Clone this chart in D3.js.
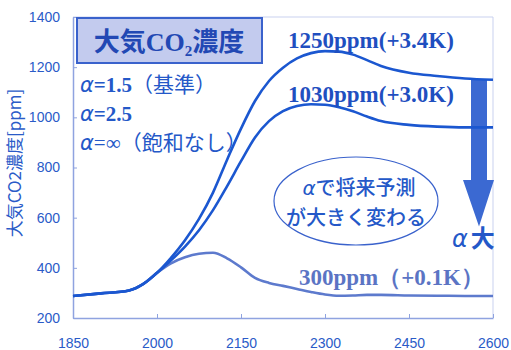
<!DOCTYPE html>
<html>
<head>
<meta charset="utf-8">
<script src="https://cdn.jsdelivr.net/npm/d3@7"></script>
<style>
  body { margin: 0; background: #fff; }
  svg { display: block; }
  .tick text { font-family: "Liberation Sans", Arial, sans-serif; font-size: 14px; fill: #2a5bc8; }
  .tick line { stroke: #8fa3e0; }
  .domain { stroke: #8fa3e0; stroke-width: 1.5; }
</style>
</head>
<body>
<svg width="511" height="350"></svg>
<script>
// years on the x axis
const years = [1850, 1900, 1950, 1975, 2000, 2025, 2050, 2075, 2100, 2125, 2150, 2175, 2200,
  2225, 2250, 2275, 2300, 2325, 2350, 2375, 2400, 2450, 2500, 2550, 2600];

// CO2 concentration (ppm) per alpha
const alpha15 = [288, 298, 310, 335, 380, 440, 510, 595, 700, 830, 955, 1065, 1145,
  1198, 1235, 1256, 1264, 1262, 1250, 1228, 1205, 1178, 1165, 1155, 1150];
const alpha25 = [288, 298, 310, 335, 380, 430, 485, 550, 630, 725, 825, 920, 985,
  1025, 1045, 1052, 1050, 1040, 1024, 1003, 985, 970, 963, 960, 960];
const alphaInf = [288, 298, 310, 335, 380, 418, 442, 456, 460, 438, 402, 360, 340,
  328, 316, 304, 294, 289, 290, 292, 292, 290, 289, 288, 288];

const xTicks = [1850, 2000, 2150, 2300, 2450, 2600];
const yTicks = [200, 400, 600, 800, 1000, 1200, 1400];

const svg = d3.select('svg');

const x = d3.scaleLinear().domain([1850, 2600]).range([73, 493]);
const y = d3.scaleLinear().domain([200, 1400]).range([318, 17]);

// frame (top + right)
svg.append('path')
  .attr('d', `M${x(1850)},${y(1400)}H${x(2600)}V${y(200)}`)
  .attr('fill', 'none')
  .attr('stroke', '#c9d1ef')
  .attr('stroke-width', 1);

// axes
svg.append('g')
  .attr('transform', `translate(0,${y(200)})`)
  .call(d3.axisBottom(x).tickValues(xTicks).tickSizeInner(-4).tickSizeOuter(0).tickPadding(20).tickFormat(d3.format('d')));

svg.append('g')
  .attr('transform', `translate(${x(1850)},0)`)
  .call(d3.axisLeft(y).tickValues(yTicks).tickSizeInner(-4).tickSizeOuter(0).tickPadding(13).tickFormat(d3.format('d')));

// y title
svg.append('text')
  .attr('transform', `translate(21,${163}) rotate(-90)`)
  .attr('text-anchor', 'middle')
  .style('font-family', '"Noto Sans CJK JP", sans-serif')
  .style('font-size', '17px')
  .attr('fill', '#2a5bc8')
  .text('大気CO2濃度[ppm]');

// arrow (alpha larger)
const ax = x(2575);
const ay0 = y(1150), ay1 = y(750), ay2 = y(565);
svg.append('path')
  .attr('d', `M${ax - 8},${ay0}H${ax + 8}V${ay1}H${ax + 15}L${ax},${ay2}L${ax - 16},${ay1}H${ax - 8}Z`)
  .attr('fill', '#3b69d2');

// curves
const line = d3.line()
  .x((d, i) => x(years[i]))
  .y(d => y(d))
  .curve(d3.curveMonotoneX);

svg.append('path').datum(alphaInf)
  .attr('d', line).attr('fill', 'none')
  .attr('stroke', '#5d7acd').attr('stroke-width', 2.6);
svg.append('path').datum(alpha25)
  .attr('d', line).attr('fill', 'none')
  .attr('stroke', '#1b57d0').attr('stroke-width', 2.6);
svg.append('path').datum(alpha15)
  .attr('d', line).attr('fill', 'none')
  .attr('stroke', '#1b57d0').attr('stroke-width', 2.6);

// title box
svg.append('rect')
  .attr('x', 77).attr('y', 18).attr('width', 185).attr('height', 45)
  .attr('fill', '#c3cbee').attr('stroke', '#3a62cc').attr('stroke-width', 2);
const title = svg.append('text')
  .attr('x', 169).attr('y', 51)
  .attr('text-anchor', 'middle')
  .attr('fill', '#2248b4')
  .style('font-family', '"Noto Sans CJK JP", sans-serif')
  .style('font-weight', 'bold')
  .style('font-size', '26px');
title.append('tspan').text('大気');
title.append('tspan').style('font-family', '"Liberation Serif", serif').text('CO');
title.append('tspan').style('font-family', '"Liberation Serif", serif').style('font-size', '15px').attr('dy', 5).text('2');
title.append('tspan').attr('dy', -5).text('濃度');

// legend lines
const legendRows = [
  { y: 92, eq: '=1.5', note: '（基準）', bold: true },
  { y: 121, eq: '=2.5', note: '', bold: true },
  { y: 150, eq: '=∞', note: '（飽和なし）', bold: false }
];
legendRows.forEach(r => {
  const t = svg.append('text').attr('x', 80).attr('y', r.y)
    .attr('fill', '#2458c8').style('font-size', '21px');
  t.append('tspan').style('font-family', '"DejaVu Sans", sans-serif').style('font-style', 'italic').text('α');
  t.append('tspan').style('font-family', '"Liberation Serif", serif')
    .style('font-weight', r.bold ? 'bold' : 'normal').text(r.eq);
  t.append('tspan').style('font-family', '"Noto Sans CJK JP", sans-serif').text(r.note);
});

// end labels
const labels = [
  { text: '1250ppm(+3.4K)', x: 288, y: 48, color: '#1f4fc0' },
  { text: '1030ppm(+3.0K)', x: 288, y: 102, color: '#1f4fc0' },
  { text: '300ppm（+0.1K）', x: 299, y: 285, color: '#5b74c4' }
];
labels.forEach(l => {
  svg.append('text').attr('x', l.x).attr('y', l.y)
    .attr('fill', l.color)
    .style('font-family', '"Liberation Serif", serif')
    .style('font-weight', 'bold')
    .style('font-size', '23px')
    .text(l.text);
});

// ellipse note
svg.append('ellipse')
  .attr('cx', 356).attr('cy', 201).attr('rx', 82).attr('ry', 44)
  .attr('fill', 'none').attr('stroke', '#3a62cc').attr('stroke-width', 1.2);
const note = svg.append('text')
  .attr('text-anchor', 'middle')
  .attr('fill', '#2458c8')
  .style('font-family', '"Noto Sans CJK JP", sans-serif')
  .style('font-weight', 500)
  .style('font-size', '20px');
const n1 = note.append('tspan').attr('x', 359).attr('y', 195);
n1.append('tspan').style('font-family', '"DejaVu Sans", sans-serif').style('font-style', 'italic').text('α');
n1.append('tspan').text('で将来予測');
note.append('tspan').attr('x', 356).attr('y', 225).text('が大きく変わる');

// alpha big
const ab = svg.append('text').attr('x', 452).attr('y', 247)
  .attr('fill', '#2458c8').style('font-size', '24px')
  .style('font-family', '"Noto Sans CJK JP", sans-serif').style('font-weight', 'bold');
ab.append('tspan').style('font-family', '"DejaVu Sans", sans-serif').style('font-style', 'italic').style('font-weight', 'normal').text('α');
ab.append('tspan').attr('dx', 3).text('大');
</script>
</body>
</html>
